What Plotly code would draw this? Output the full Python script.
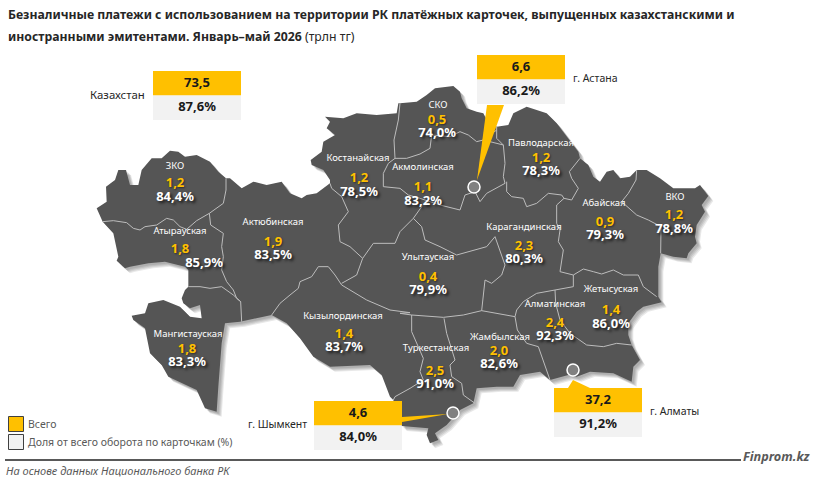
"""
Безналичные платежи по регионам РК, карта Finprom
"""

import plotly.graph_objects as go

TITLE_1 = "<b>Безналичные платежи с использованием на территории РК платёжных карточек, выпущенных казахстанскими и</b>"
TITLE_2 = "<b>иностранными эмитентами. Январь–май 2026</b> (трлн тг)"
SOURCE = "На основе данных Национального банка РК"

regions = ["ЗКО", "Атырауская", "Актюбинская", "Костанайская", "Кызылординская", "Мангистауская",
           "СКО", "Акмолинская", "Павлодарская", "Абайская", "ВКО", "Карагандинская",
           "Улытауская", "Жетысуская", "Алматинская", "Жамбылская", "Туркестанская"]
region_totals = [1.2, 1.8, 1.9, 1.2, 1.4, 1.8, 0.5, 1.1, 1.2, 0.9, 1.2, 2.3, 0.4, 1.4, 2.4, 2.0, 2.5]
region_shares = [84.4, 85.9, 83.5, 78.5, 83.7, 83.3, 74.0, 83.2, 78.3, 79.3, 78.8, 80.3, 79.9, 86.0, 92.3, 82.6, 91.0]

# label positions, pixels of the 815x485 picture
name_xy = [(175, 167), (180, 232), (273, 223), (358, 159), (343, 317), (188, 335), (438, 106), (423, 168),
           (541, 144), (604, 204), (675, 198), (524, 228), (428, 258), (611, 290), (555, 305), (500, 338), (436, 349)]
total_xy = [(175, 184), (180, 250), (273, 243), (359, 179), (344, 335), (187, 350), (437, 121), (423, 188),
            (541, 159), (605, 223), (674, 216), (524, 247), (428, 278), (611, 311), (555, 324), (499, 352), (435, 372)]
share_xy = [(175, 198), (204, 264), (273, 256), (359, 193), (344, 348), (187, 363), (437, 134), (423, 202),
            (541, 172), (605, 236), (674, 230), (524, 260), (428, 291), (611, 325), (555, 337), (499, 365), (435, 385)]

box_names = ["Казахстан", "г. Астана", "г. Алматы", "г. Шымкент"]
box_totals = [73.5, 6.6, 37.2, 4.6]
box_shares = [87.6, 86.2, 91.2, 84.0]
box_left = [153, 477, 554, 314]
box_top = [71, 55, 388, 401]
box_name_x = [147, 571, 648, 309]
box_name_size = [11.4, 10.5, 10.5, 10.5]
box_name_anchor = ["right", "left", "left", "right"]

city_dots = [(474, 187), (573, 370), (453, 413)]
callouts = [[(487, 105), (504, 105), (477, 180)],
            [(568, 388), (573, 380), (590, 388)],
            [(402, 417), (448, 414), (402, 422)]]

YELLOW = "#FFC000"
LIGHT = "#F2F2F2"
MAP = "#555555"
BORDER = "#BDBDBD"


def traced(points, ox, oy):
    # outlines were traced on 3x crops, (ox, oy) is the crop corner
    return [(ox + x / 3, oy + y / 3) for x, y in points]


def z1(*points):
    return traced(points, 90, 90)


def z2(*points):
    return traced(points, 380, 90)


def z5(*points):
    return traced(points, 320, 80)


def z6(*points):
    return traced(points, 300, 300)


outline = (
    z1((38, 395), (20, 355), (50, 335), (48, 290), (75, 270), (85, 240), (108, 240), (120, 285), (145, 285),
       (155, 240), (185, 205), (215, 205), (240, 182), (265, 185), (285, 200), (320, 195), (360, 215), (385, 245),
       (408, 265), (420, 265), (455, 295), (490, 275), (530, 285), (575, 275), (600, 310), (635, 325), (650, 315),
       (680, 310), (720, 280), (720, 270), (700, 240), (665, 225), (662, 210), (695, 185), (700, 155), (735, 135),
       (710, 115), (720, 95), (705, 80), (760, 85), (800, 70), (860, 75), (920, 70), (925, 40))
    + z5((240, 70), (290, 65), (320, 45), (345, 25), (400, 18), (420, 35), (425, 55), (440, 85), (470, 95),
         (490, 100), (500, 120), (530, 140), (565, 135), (580, 100), (620, 80), (650, 90), (680, 100), (710, 130),
         (740, 170), (775, 215))
    + z2((600, 205), (625, 225), (640, 260), (660, 275), (680, 245), (700, 240), (720, 265), (750, 260), (770, 240),
         (800, 240), (840, 265), (880, 295), (945, 295), (960, 285), (985, 318), (965, 345), (975, 365), (950, 405),
         (945, 440), (950, 460), (925, 490), (920, 505), (880, 500), (842, 490), (835, 530), (835, 620), (845, 637),
         (790, 650), (770, 665), (745, 700), (745, 735), (755, 765), (780, 810), (760, 830), (755, 875), (700, 850),
         (630, 845), (590, 860), (565, 855), (510, 870))
    + z6((720, 215), (660, 225), (640, 260), (590, 260), (530, 265), (520, 310), (480, 330), (440, 375), (405, 400),
         (415, 420), (390, 430), (380, 405), (385, 385), (305, 378), (280, 300), (270, 290), (245, 225), (210, 195),
         (90, 200), (40, 170), (0, 115))
    + z1((590, 700), (545, 675), (450, 695), (405, 700), (395, 760), (385, 890), (380, 965), (345, 955), (320, 900),
         (235, 860), (215, 825), (180, 790), (165, 715), (130, 690), (125, 677), (165, 670), (175, 640), (220, 630),
         (270, 650), (300, 680), (335, 685), (330, 645), (300, 655), (280, 640), (275, 625), (285, 600), (295, 590),
         (295, 540), (285, 530), (225, 515), (175, 520), (120, 530), (105, 535), (80, 512), (85, 500), (70, 430),
         (40, 400))
)

borders = [
    z1((38, 395), (70, 392), (110, 398), (130, 415), (150, 420), (165, 410), (200, 405), (230, 385), (250, 390),
       (270, 410), (290, 418), (320, 392), (358, 370)),
    z1((408, 265), (408, 300), (400, 340), (358, 370)),
    z1((358, 370), (362, 405), (400, 430), (395, 470), (400, 500), (395, 540), (410, 575), (430, 600), (440, 625),
       (452, 635)),
    z1((295, 590), (330, 590), (360, 595), (395, 590), (430, 615), (452, 635), (455, 695)),
    z1((720, 280), (725, 295), (755, 320), (775, 365), (745, 405), (750, 455), (780, 470), (800, 490), (818, 505)),
    z1((545, 675), (570, 640), (600, 615), (625, 595), (630, 575), (665, 560), (685, 530), (715, 530), (735, 555),
       (755, 585)),
    z1((755, 580), (800, 555), (818, 505), (850, 460), (915, 460)) + z2((60, 425), (100, 385)),
    z1((755, 585), (830, 630), (900, 660), (960, 668)) + z2((60, 670), (95, 675), (190, 682), (250, 675), (305, 662)),
    z2((305, 662), (315, 570), (335, 580), (365, 555), (375, 525), (365, 495), (345, 440), (320, 470), (230, 495),
       (180, 470), (135, 450), (125, 410), (100, 385)),
    z2((100, 385), (125, 350)),
    z5((240, 70), (235, 120), (222, 180), (225, 235), (205, 250), (190, 280), (190, 320), (240, 325), (265, 345),
       (300, 355), (360, 375), (420, 390), (435, 345), (465, 335), (480, 365), (500, 340), (555, 310)),
    z5((225, 235), (260, 235), (300, 222), (330, 205), (335, 165), (390, 170), (420, 155), (445, 165), (470, 185),
       (490, 180), (530, 150)),
    z5((530, 140), (530, 175), (550, 195), (555, 250), (550, 290), (555, 310)),
    z5((490, 180), (550, 195)),
    z2((380, 275), (380, 305), (395, 320), (430, 325), (440, 350), (470, 340), (505, 310), (545, 315), (552, 325)),
    z2((552, 325), (575, 330), (595, 295), (575, 265), (568, 245), (600, 205)),
    z2((552, 325), (530, 345), (530, 400), (540, 420), (535, 455), (550, 480), (540, 545), (580, 555)),
    z2((580, 555), (580, 590), (525, 600), (470, 610), (430, 635), (410, 660), (405, 680)),
    z2((580, 555), (610, 537), (640, 545), (665, 552), (700, 540), (730, 555), (775, 555), (790, 590), (830, 620)),
    z2((770, 240), (768, 270), (745, 310), (725, 335), (770, 375), (805, 390), (843, 410), (842, 490)),
    z2((305, 662), (405, 680), (412, 720), (440, 760), (475, 770), (490, 815), (510, 870)),
    z2((525, 600), (527, 640), (540, 690), (570, 730), (620, 765), (670, 770), (710, 760), (755, 765)),
    z6((335, 45), (335, 95), (370, 175), (360, 215), (370, 240), (330, 265), (285, 290), (280, 300)),
    z6((432, 55), (440, 100), (465, 180), (450, 195), (455, 230), (485, 250), (490, 285), (525, 310)),
]


def comma(value, suffix=""):
    return f"{value:.1f}".replace(".", ",") + suffix


def xs(points):
    return [p[0] for p in points]


def ys(points):
    return [p[1] for p in points]


def add_area(fig, points, color):
    fig.add_trace(
        go.Scatter(
            x=xs(points) + [points[0][0]],
            y=ys(points) + [points[0][1]],
            mode="lines",
            fill="toself",
            fillcolor=color,
            line=dict(width=0),
            hoverinfo="skip",
            showlegend=False,
        )
    )


def add_text(fig, points, texts, size, color, bold=False, shadow=None):
    fig.add_trace(
        go.Scatter(
            x=xs(points),
            y=ys(points),
            text=[f"<b>{t}</b>" if bold else t for t in texts],
            mode="text",
            textposition="middle center",
            textfont=dict(family=FONT, size=size, color=color, shadow=shadow or "none"),
            hoverinfo="skip",
            showlegend=False,
        )
    )


FONT = "Noto Sans"
GLOW = "2px 2px 3px rgba(0,0,0,0.75)"

fig = go.Figure()

# soft shadow under the map, stacked offset copies
for step in [5, 4, 3, 2]:
    add_area(fig, [(p[0] + step, p[1] + step) for p in outline], "rgba(0,0,0,0.09)")

add_area(fig, outline, MAP)

border_x, border_y = [], []
for part in borders:
    border_x += xs(part) + [None]
    border_y += ys(part) + [None]

fig.add_trace(
    go.Scatter(
        x=border_x,
        y=border_y,
        mode="lines",
        line=dict(color=BORDER, width=1),
        hoverinfo="skip",
        showlegend=False,
    )
)

for wedge in callouts:
    add_area(fig, wedge, YELLOW)

fig.add_trace(
    go.Scatter(
        x=xs(city_dots),
        y=ys(city_dots),
        mode="markers",
        marker=dict(size=12, color="#808080", line=dict(color="white", width=1.5)),
        hoverinfo="skip",
        showlegend=False,
    )
)

box_total_xy, box_share_xy = [], []
for left, top in zip(box_left, box_top):
    add_area(fig, [(left, top), (left + 88, top), (left + 88, top + 24.5), (left, top + 24.5)], YELLOW)
    add_area(fig, [(left, top + 24.5), (left + 88, top + 24.5), (left + 88, top + 49), (left, top + 49)], LIGHT)
    box_total_xy.append((left + 44, top + 12.5))
    box_share_xy.append((left + 44, top + 36.5))

# legend swatches and the footer rule
fig.update_layout(shapes=[
    dict(type="rect", x0=8.5, x1=23.5, y0=416.5, y1=431.5, fillcolor=YELLOW, line=dict(color="#404040", width=1)),
    dict(type="rect", x0=8.5, x1=23.5, y0=434.5, y1=449.5, fillcolor=LIGHT, line=dict(color="#404040", width=1)),
    dict(type="line", x0=5, x1=741, y0=460, y1=460, line=dict(color="#595959", width=2)),
])

add_text(fig, name_xy, regions, 9.5, "white")
add_text(fig, total_xy, [comma(v) for v in region_totals], 13, YELLOW, bold=True, shadow="1px 1px 2px rgba(0,0,0,0.5)")
add_text(fig, share_xy, [comma(v, "%") for v in region_shares], 13, "white", bold=True, shadow=GLOW)
add_text(fig, box_total_xy, [comma(v) for v in box_totals], 13, "#1a1a1a", bold=True)
add_text(fig, box_share_xy, [comma(v, "%") for v in box_shares], 13, "#1a1a1a", bold=True)


def note(x, y, text, size, color="#262626", anchor="left"):
    fig.add_annotation(x=x, y=y, text=text, showarrow=False, xanchor=anchor, yanchor="middle",
                       font=dict(family=FONT, size=size, color=color), xref="x", yref="y")


for name, x, anchor, top, size in zip(box_names, box_name_x, box_name_anchor, box_top, box_name_size):
    note(x, top + 23, name, size, anchor=anchor)

note(6, 14, TITLE_1, 12.25)
note(6, 36, TITLE_2, 12.25)
note(26, 424, "Всего", 10.5, "#595959")
note(26, 442, "Доля от всего оборота по карточкам (%)", 10.5, "#595959")
note(4, 470, f"<i>{SOURCE}</i>", 11, "#595959")
note(741, 456, "<b><i>Finprom.kz</i></b>", 12.7, "#595959")

fig.update_layout(
    width=815,
    height=485,
    margin=dict(l=0, r=0, t=0, b=0),
    paper_bgcolor="white",
    plot_bgcolor="white",
    showlegend=False,
    xaxis=dict(range=[0, 815], visible=False, fixedrange=True),
    yaxis=dict(range=[485, 0], visible=False, fixedrange=True),
)

fig.write_html("out.html", config=dict(displayModeBar=False), post_script="document.body.style.margin='0';")
